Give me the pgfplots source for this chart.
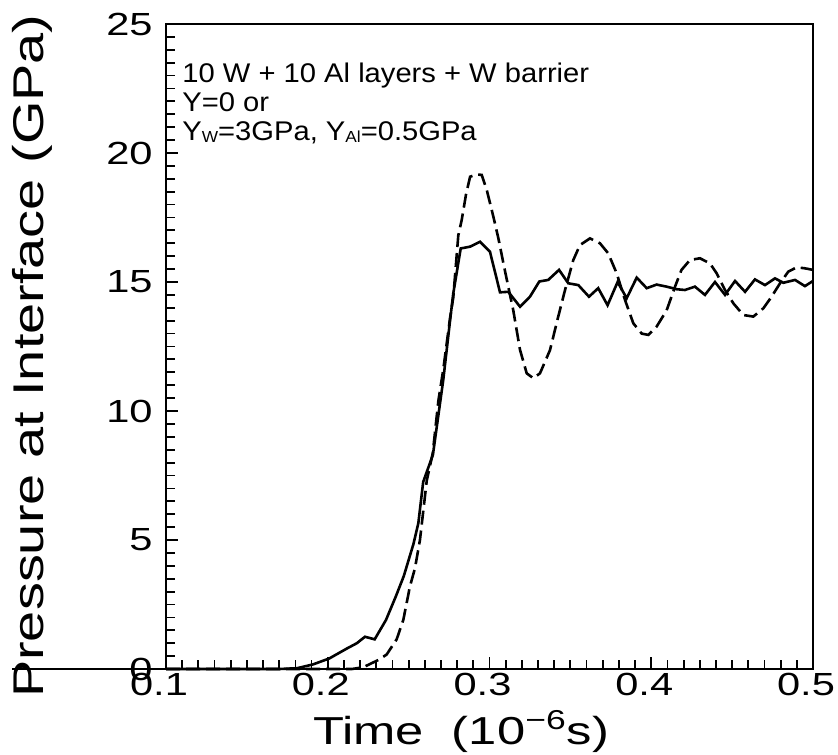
\documentclass[border=0pt]{standalone}
\usepackage{fontspec}
\setmainfont{Liberation Sans}
\newfontfamily\widefont[FakeStretch=1.3]{Liberation Sans}
\newfontfamily\notefont[FakeStretch=1.08]{Liberation Sans}
\usepackage{pgfplots}
\pgfplotsset{compat=1.18}
\begin{document}
\begin{tikzpicture}
\begin{axis}[
  at={(0,0)}, anchor=south west,
  scale only axis, width=323.5pt, height=322.5pt,
  xmin=0.1, xmax=0.5, ymin=0, ymax=25,
  xtick={0.1,0.2,0.3,0.4,0.5},
  xticklabels={0.1,0.2,0.3,0.4,0.5},
  ytick={0,5,10,15,20,25},
  yticklabels={0,5,10,15,20,25},
  minor x tick num=9, minor y tick num=9,
  tick pos=left, tick align=inside,
  major tick length=6pt, minor tick length=4.5pt,
  every tick/.style={black, line width=0.9pt},
  axis line style={line width=1.3pt},
  ticklabel style={font=\widefont\fontsize{16}{16}\selectfont, inner sep=0pt},
  xticklabel style={yshift=-2pt, xshift=-3.5pt},
  yticklabel style={xshift=-6.5pt},
  clip=false,
  xlabel={Time\ \ (10\textsuperscript{−6}s)},
  ylabel={Pressure\ at\ Interface\ (GPa)},
  xlabel style={at={(axis description cs:0.456,-0.117)}, anchor=base, font=\widefont\fontsize{19.5}{19.5}\selectfont, inner sep=0pt},
  ylabel style={at={(axis description cs:-0.19,0.485)}, anchor=base, font=\widefont\fontsize{21.5}{21.5}\selectfont, inner sep=0pt},
]
\addplot[black, line width=1.3pt] coordinates {
(0.100,0) (0.170,0.0) (0.181,0.03) (0.191,0.18) (0.201,0.41) (0.212,0.80) (0.218,1.0) (0.223,1.25) (0.229,1.15) (0.236,1.9) (0.242,2.8) (0.247,3.6) (0.253,4.85) (0.256,5.65) (0.259,7.25) (0.265,8.3) (0.2714,11.2) (0.2756,13.5) (0.2776,14.56) (0.2822,16.3) (0.288,16.37) (0.2941,16.56) (0.3003,16.17) (0.3065,14.6) (0.3116,14.62) (0.3189,14.04) (0.325,14.43) (0.3308,15.02) (0.3363,15.08) (0.343,15.47) (0.3487,14.95) (0.3549,14.88) (0.3615,14.43) (0.3672,14.76) (0.373,14.1) (0.3792,15.0) (0.3848,14.37) (0.391,15.17) (0.3972,14.76) (0.4033,14.9) (0.4095,14.82) (0.4157,14.72) (0.4208,14.69) (0.427,14.82) (0.4332,14.5) (0.4394,15.0) (0.4456,14.5) (0.4518,15.04) (0.458,14.62) (0.4641,15.1) (0.4703,14.88) (0.4765,15.14) (0.4817,14.97) (0.4889,15.08) (0.495,14.84) (0.5,15.04)
};
\addplot[black, line width=1.3pt, dash pattern=on 7pt off 3pt] coordinates {
(0.1,0) (0.215,0) (0.222,0.07) (0.2313,0.35) (0.2364,0.56) (0.2426,1.15) (0.2467,1.9) (0.2508,3.2) (0.2539,3.9) (0.257,5.0) (0.2612,7.3) (0.2649,8.36) (0.2684,10.4) (0.2714,11.6) (0.2756,13.6) (0.2776,14.4) (0.2807,16.8) (0.2828,17.4) (0.2855,18.4) (0.288,19.08) (0.2921,19.17) (0.2952,19.15) (0.2983,18.57) (0.3024,17.53) (0.3055,16.69) (0.3086,15.72) (0.3116,14.82) (0.3147,13.9) (0.3189,12.36) (0.323,11.46) (0.3271,11.27) (0.3312,11.46) (0.3374,12.36) (0.3425,13.66) (0.3467,14.69) (0.3518,15.85) (0.3559,16.43) (0.3621,16.69) (0.3683,16.5) (0.3734,16.11) (0.3786,15.34) (0.3838,14.3) (0.3889,13.4) (0.3941,13.0) (0.3982,12.95) (0.4033,13.27) (0.4095,13.9) (0.4147,14.82) (0.4187,15.47) (0.4239,15.85) (0.4301,15.92) (0.4363,15.72) (0.4404,15.34) (0.4456,14.69) (0.4508,14.17) (0.4569,13.72) (0.4631,13.66) (0.4693,13.98) (0.4744,14.43) (0.4796,14.95) (0.4847,15.4) (0.4899,15.57) (0.495,15.53) (0.5,15.47)
};
\draw[line width=1.3pt] (rel axis cs:-0.238,0) -- (rel axis cs:0,0);
\node[anchor=base west, inner sep=0pt, font=\notefont\fontsize{13.5}{13.5}\selectfont] at (axis cs:0.1099,22.75) {10 W + 10 Al layers + W barrier};
\node[anchor=base west, inner sep=0pt, font=\notefont\fontsize{13.5}{13.5}\selectfont] at (axis cs:0.1099,21.59) {Y=0 or};
\node[anchor=base west, inner sep=0pt, font=\notefont\fontsize{13.5}{13.5}\selectfont] at (axis cs:0.1099,20.5) {Y\raisebox{-0.2ex}{\fontsize{8}{8}\selectfont W}=3GPa, Y\raisebox{-0.2ex}{\fontsize{8}{8}\selectfont Al}=0.5GPa};
\end{axis}
\pgfresetboundingbox
\path[use as bounding box] (-83pt,-42.5pt) rectangle (336pt,334.5pt);
\end{tikzpicture}
\end{document}
